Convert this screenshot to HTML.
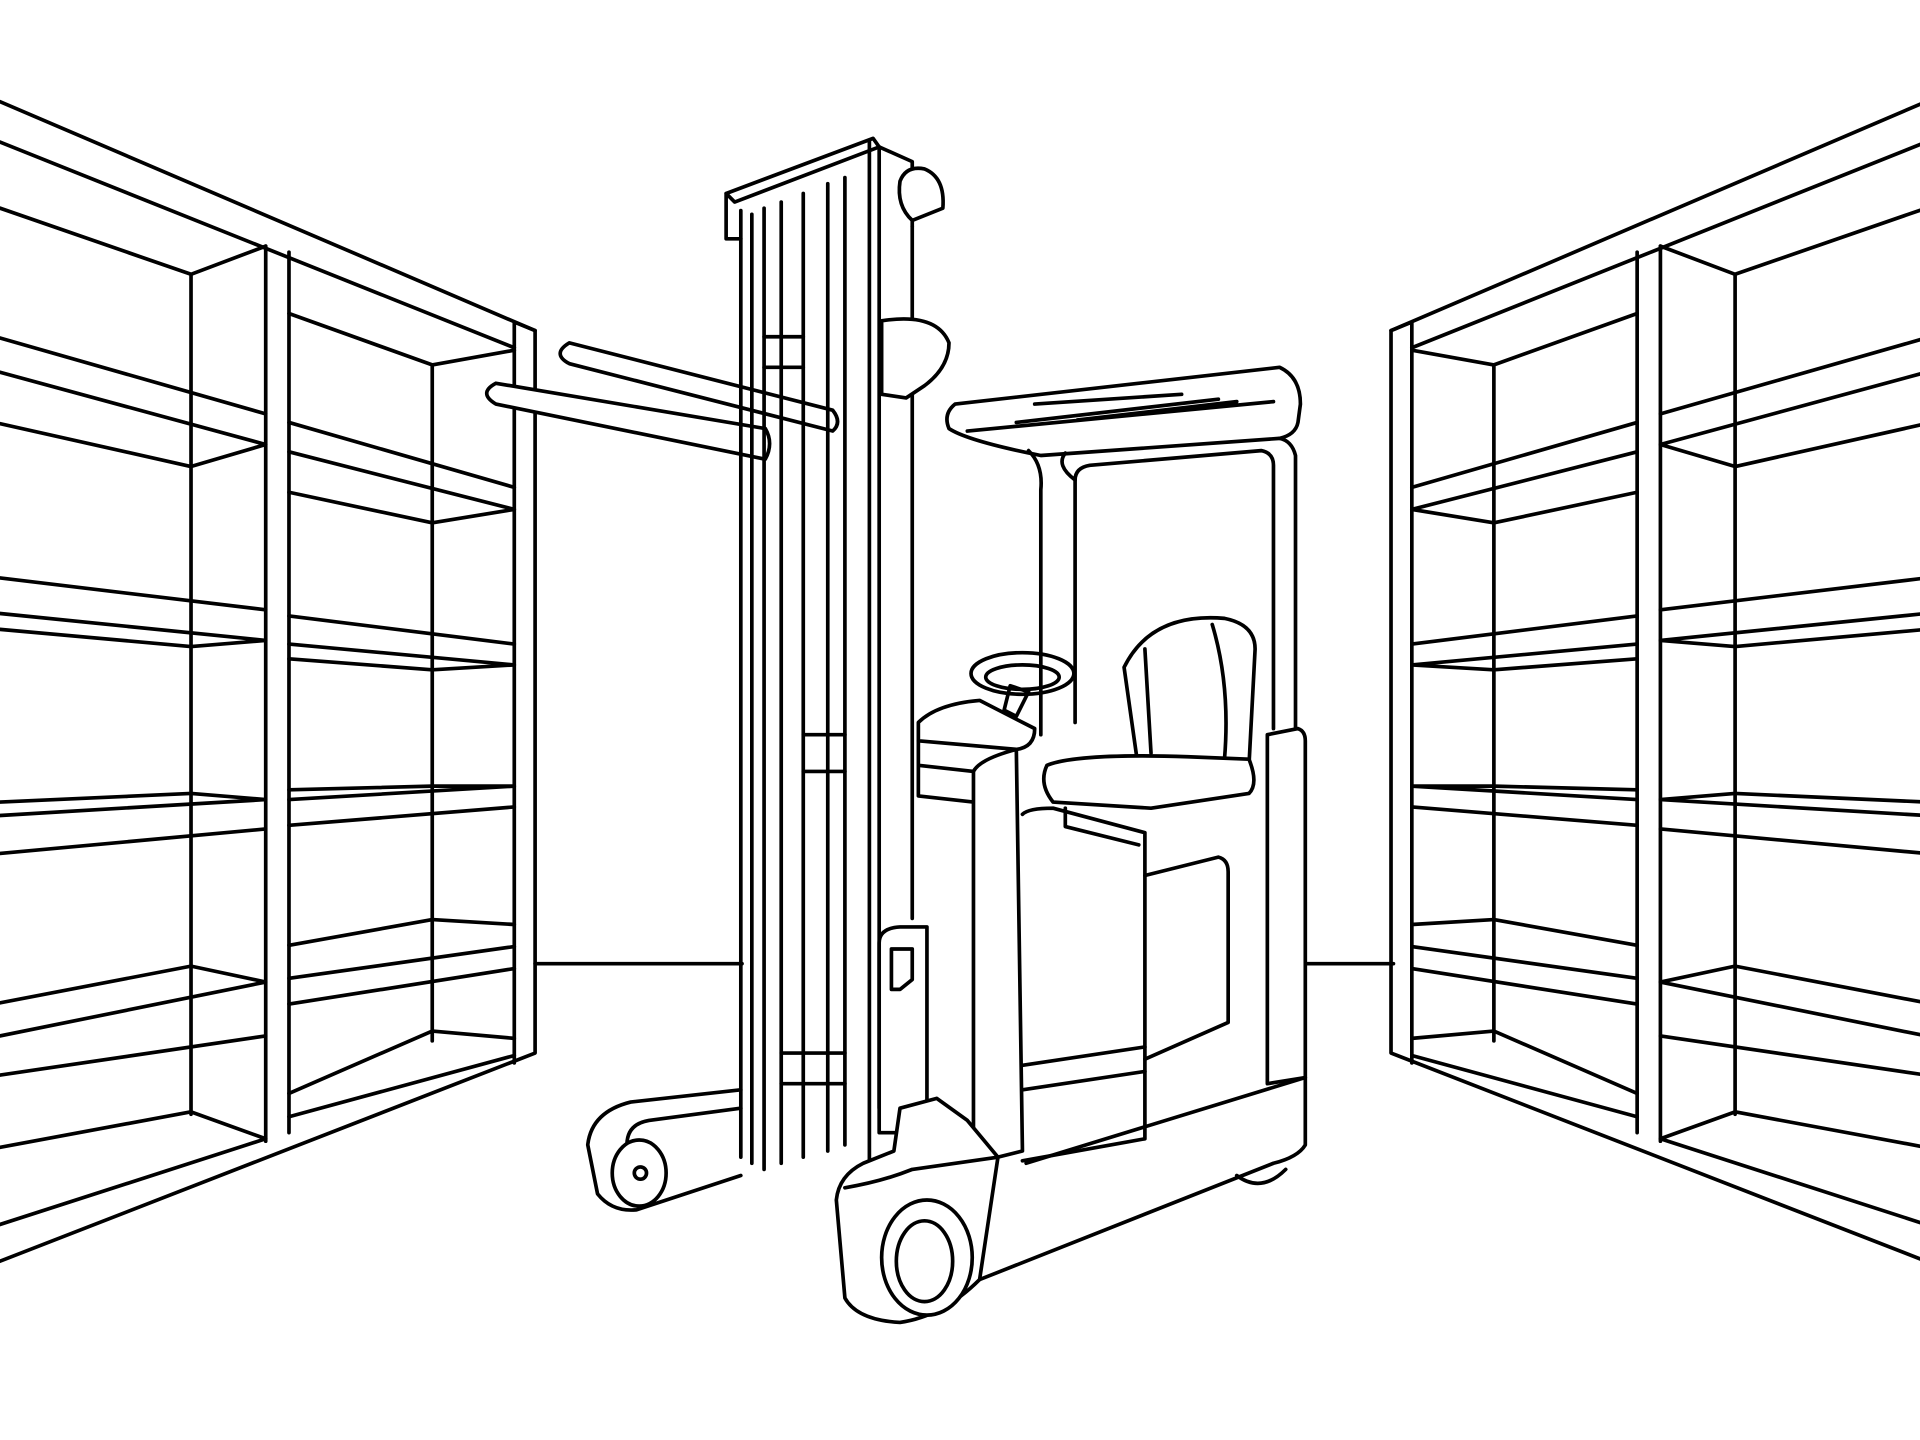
<!DOCTYPE html>
<html><head><meta charset="utf-8"><style>html,body{margin:0;padding:0;background:#fff}svg{display:block}</style></head><body>
<svg width="1920" height="1440" viewBox="0 0 1568 1176" xmlns="http://www.w3.org/2000/svg" fill="none" stroke="#000" stroke-width="3" stroke-linejoin="round" stroke-linecap="round">
<rect x="0" y="0" width="1568" height="1176" fill="#fff" stroke="none"/>
<g id="shelf">
<path d="M0,83 L437,270 L437,860 L0,1030"/>
<path d="M0,116 L420,284"/>
<path d="M420,263 L437,270 M420,263 V868"/>
<path d="M0,170 L156,224 L217,201"/>
<path d="M156,224 V910"/>
<path d="M217,201 V932 M236,206 V925"/>
<path d="M236,256 L353,298 L420,286 M353,298 V850"/>
<path d="M0,276 L217,338 M0,304 L217,363 M0,346 L156,381 L217,363"/>
<path d="M236,345 L420,398 M236,369 L420,416 M236,402 L353,427 L420,416"/>
<path d="M0,472 L217,498 M0,501 L217,523 M0,514 L156,528 L217,523"/>
<path d="M236,503 L420,526 M236,526 L420,543 M236,538 L353,547 L420,543"/>
<path d="M0,655 L156,648 L217,653 M0,666 L217,653 M0,697 L217,677"/>
<path d="M236,645 L353,642 L420,642 M236,653 L420,642 M236,674 L420,659"/>
<path d="M0,819 L156,789 L217,802 M0,846 L217,802 M0,878 L217,846"/>
<path d="M236,772 L353,751 L420,755 M236,799 L420,773 M236,820 L420,791"/>
<path d="M0,937 L156,908 L217,930 M0,1000 L217,930"/>
<path d="M236,893 L353,842 L420,848 M236,912 L420,862"/>
</g>
<use href="#shelf" transform="translate(1573,0) scale(-1,1)"/>
<path d="M437,787 H606 M1062,787 H1138"/>
<!-- forks -->
<path d="M465,280 L680,335 Q688,345 680,352 L465,297 Q450,289 465,280 Z" fill="#fff"/>
<path d="M405,313 L625,350 Q632,362 625,375 L405,330 Q390,321 405,313 Z" fill="#fff"/>
<!-- mast -->
<path d="M605,172 L605,945 M614,175 V950 M624,170 V955 M638,165 V950 M656,158 V945 M676,150 V940 M690,145 V935" />
<path d="M593,158 L713,113 L718,120 L600,165 Z M593,158 V195 L605,195"/>
<path d="M710,115 V960 M718,120 V905 M745,185 V750"/>
<path d="M718,120 L745,132 V185"/>
<path d="M735,148 Q740,135 755,138 Q772,145 770,170 L745,180 Q732,168 735,148 Z" fill="#fff"/>
<path d="M720,262 Q765,255 775,280 Q775,300 755,315 L740,325 L720,322 Z" fill="#fff"/>
<path d="M656,600 H690 M656,630 H690 M638,860 H690 M638,885 H690 M624,275 H656 M624,300 H656"/>
<!-- outrigger + small wheel -->
<path d="M605,890 L515,900 Q483,908 480,935 L488,975 Q500,990 520,988 L605,960"/>
<path d="M605,905 L530,915 Q512,918 512,935"/>
<ellipse cx="522" cy="958" rx="22" ry="27" fill="#fff"/>
<circle cx="523" cy="958" r="5"/>
<!-- overhead guard -->
<path d="M780,330 L1045,300 Q1062,308 1062,330 L1060,345 Q1058,355 1045,358 L850,372 Q790,360 775,350 Q770,338 780,330 Z" fill="#fff"/>
<path d="M790,352 L1040,328 M830,345 L995,326 M880,343 L1010,328 M845,330 L965,322"/>
<path d="M840,368 Q852,380 850,400 V600 M870,370 Q862,380 878,392 V590"/>
<path d="M878,392 Q878,382 890,380 L1030,368 Q1040,370 1040,380 V595"/>
<path d="M1045,358 Q1055,360 1058,372 V595"/>
<!-- steering -->
<ellipse cx="835" cy="550" rx="42" ry="17"/>
<ellipse cx="835" cy="553" rx="30" ry="10"/>
<path d="M825,560 L820,580 L830,585 L840,565 Z"/>
<path d="M750,590 Q765,575 800,572 L845,595 Q845,610 830,612 L750,605 Z" fill="#fff"/>
<path d="M750,605 V650 L795,655 M750,625 L795,630"/>
<!-- seat -->
<path d="M918,545 Q940,500 1000,505 Q1025,510 1025,530 L1020,625 L930,630 Z" fill="#fff"/>
<path d="M935,530 L940,615 M990,510 Q1005,560 1000,620"/>
<path d="M855,625 Q880,615 970,618 L1020,620 Q1028,640 1020,648 L940,660 L860,655 Q848,640 855,625 Z" fill="#fff"/>
<path d="M870,660 V675 L930,690"/>
<!-- body -->
<path d="M795,630 Q800,620 830,612 L835,940 L795,950 Z" fill="#fff"/>
<path d="M835,665 Q840,660 860,660 L935,680 V930 L835,948"/>
<path d="M935,715 L995,700 Q1003,702 1003,712 V835 L935,865 M835,870 L935,855 M835,890 L935,875"/>
<path d="M1035,600 L1060,595 Q1066,597 1066,605 V880 L1035,885 Z" fill="#fff"/>
<path d="M838,950 L1066,880 V935 Q1060,945 1040,950 L800,1045"/>
<path d="M1010,960 Q1030,975 1050,955"/>
<!-- front fender + wheel -->
<path d="M718,770 Q718,758 735,757 L757,757 V900 L745,925 L718,925 Z" fill="#fff"/>
<path d="M728,775 H745 V800 L735,808 H728 Z"/>
<path d="M735,905 L765,897 L790,915 L815,945 L800,1045 Q770,1075 735,1080 Q700,1078 690,1060 L683,980 Q685,960 705,950 L730,940 Z" fill="#fff"/>
<path d="M690,970 Q720,965 745,955 L815,945"/>
<ellipse cx="757" cy="1027" rx="37" ry="47" fill="#fff"/>
<ellipse cx="755" cy="1030" rx="23" ry="33"/>
</svg>
</body></html>
